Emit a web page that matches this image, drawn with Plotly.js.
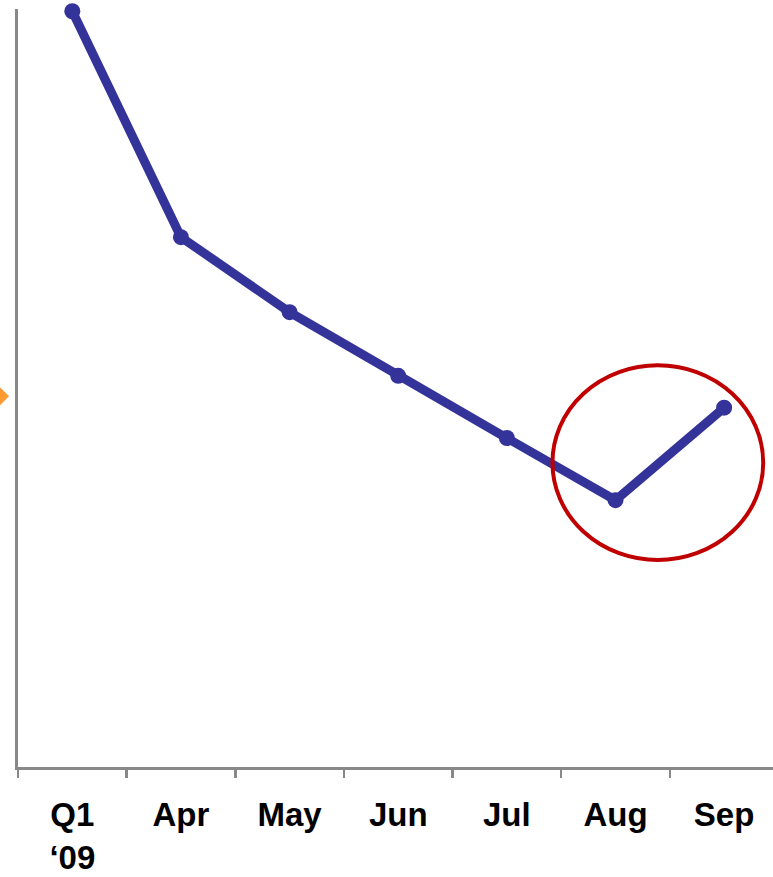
<!DOCTYPE html>
<html>
<head>
<meta charset="utf-8">
<script src="https://cdn.plot.ly/plotly-3.0.1.min.js"></script>
<style>html,body{margin:0;padding:0;background:#fff;overflow:hidden;}</style>
</head>
<body>
<div id="chart" style="width:773px;height:877px;"></div>
<script>
// Data
const categories = ["Q1<br>\u201809", "Apr", "May", "Jun", "Jul", "Aug", "Sep"];
const values = [99.7, 69.9, 60.0, 51.6, 43.4, 35.2, 47.4];
const markerValue = 48.9;           // orange reference marker on the y axis
const highlightX = [4.42, 6.36];    // red circle extent (category index)
const highlightY = [27.3, 53.0];    // red circle extent (value)

const idx = categories.map((c, i) => i);
const boundaries = idx.map(i => i - 0.5);

const traces = [
  {
    x: idx, y: values, type: 'scatter', mode: 'lines+markers',
    line: {color: '#333399', width: 9},
    marker: {color: '#333399', size: 16},
    cliponaxis: false, hoverinfo: 'skip'
  },
  {x: [0], y: [0], xaxis: 'x2', type: 'scatter', mode: 'markers',
   marker: {opacity: 0}, hoverinfo: 'skip'}
];

const layout = {
  width: 773, height: 877,
  margin: {l: 18, r: 0, t: 9, b: 110, pad: 0},
  paper_bgcolor: '#ffffff', plot_bgcolor: '#ffffff',
  showlegend: false,
  xaxis: {
    type: 'linear', range: [-0.5, 6.45], fixedrange: true,
    tickvals: idx, ticktext: categories, ticks: '',
    showgrid: false, zeroline: false,
    showline: true, linecolor: '#888888', linewidth: 3,
    tickfont: {family: 'Liberation Sans, Arial, sans-serif', size: 33, color: '#000000', weight: 'bold'},
    ticklabelstandoff: 16
  },
  xaxis2: {
    type: 'linear', overlaying: 'x', range: [-0.5, 6.45], fixedrange: true,
    tickvals: boundaries, ticks: 'outside', ticklen: 10, tickwidth: 2.5, tickcolor: '#888888',
    showticklabels: false, showgrid: false, zeroline: false, showline: false, side: 'bottom'
  },
  yaxis: {
    range: [0, 100], fixedrange: true,
    showticklabels: false, ticks: '', showgrid: false, zeroline: false,
    showline: true, linecolor: '#888888', linewidth: 3
  },
  shapes: [
    {
      type: 'circle', xref: 'x', yref: 'y',
      x0: highlightX[0], x1: highlightX[1], y0: highlightY[0], y1: highlightY[1],
      line: {color: '#C00000', width: 4}, fillcolor: 'rgba(0,0,0,0)'
    },
    {
      type: 'path', xref: 'paper', xsizemode: 'pixel', xanchor: 0,
      yref: 'y', ysizemode: 'pixel', yanchor: markerValue,
      path: 'M -27,0 L -18,9 L -9,0 L -18,-9 Z',
      fillcolor: '#FF9933', line: {width: 0}
    }
  ]
};

Plotly.newPlot('chart', traces, layout, {staticPlot: true, displayModeBar: false});
</script>
</body>
</html>
